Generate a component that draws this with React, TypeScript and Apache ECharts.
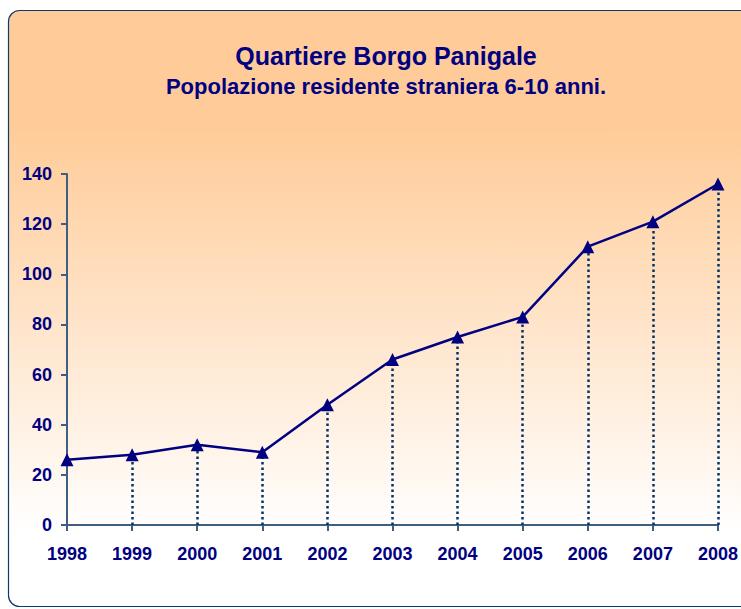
import React, { useEffect, useRef } from "react";
import * as echarts from "echarts";

const years = ["1998", "1999", "2000", "2001", "2002", "2003", "2004", "2005", "2006", "2007", "2008"];
const values = [26, 28, 32, 29, 48, 66, 75, 83, 111, 121, 136];
const titleText = "Quartiere Borgo Panigale";
const subtitleText = "Popolazione residente straniera 6-10 anni.";

export default function App() {
  const ref = useRef<HTMLDivElement>(null);
  useEffect(() => {
    if (!ref.current) return;
    const chart = echarts.init(ref.current, null, { renderer: "svg" });
    const navy = "#000080";
    const axisColor = "#3E5F82";
    const font = "Liberation Sans, Arial, sans-serif";
    // drop lines for every point except the first, which lies on the value axis
    const dropData = years
      .map((y, i) => [
        { coord: [y, 0] },
        { coord: [y, values[i]] },
      ])
      .filter((_, i) => i > 0);
    chart.setOption({
      animation: false,
      textStyle: { fontFamily: font },
      graphic: [
        {
          type: "rect",
          z: -10,
          silent: true,
          shape: { x: 8.5, y: 10.5, width: 780, height: 596, r: 11 },
          style: {
            fill: new echarts.graphic.LinearGradient(0, 0, 0, 1, [
              { offset: 0, color: "#FFCC99" },
              { offset: 0.2, color: "#FFCC99" },
              { offset: 0.88, color: "#FFFFFF" },
              { offset: 1, color: "#FFFFFF" },
            ]),
            stroke: "#0B3A6E",
            lineWidth: 1.2,
          },
        },
        {
          type: "rect",
          z: -9,
          silent: true,
          shape: { x: 158, y: 37, width: 447, height: 96 },
          style: { fill: "#FFCB98" },
        },
      ],
      title: {
        text: titleText,
        subtext: subtitleText,
        left: 381,
        textAlign: "center",
        top: 38,
        itemGap: 7,
        textStyle: {
          color: navy,
          fontSize: 25,
          fontWeight: "bold",
          fontFamily: font,
        },
        subtextStyle: {
          color: navy,
          fontSize: 22,
          fontWeight: "bold",
          fontFamily: font,
        },
      },
      grid: { left: 67, right: 23, top: 174, bottom: 84, containLabel: false },
      xAxis: {
        type: "category",
        data: years,
        boundaryGap: false,
        axisLine: { lineStyle: { color: axisColor, width: 2 } },
        axisTick: { alignWithLabel: true, length: 6, lineStyle: { color: axisColor, width: 2 } },
        axisLabel: { color: navy, fontSize: 18, fontWeight: "bold", margin: 20, fontFamily: font },
        splitLine: { show: false },
      },
      yAxis: {
        type: "value",
        min: 0,
        max: 140,
        interval: 20,
        axisLine: { show: true, lineStyle: { color: axisColor, width: 2 } },
        axisTick: { show: true, length: 6, lineStyle: { color: axisColor, width: 2 } },
        axisLabel: { color: navy, fontSize: 18, fontWeight: "bold", margin: 15, fontFamily: font },
        splitLine: { show: false },
      },
      series: [
        {
          type: "line",
          data: values,
          symbol: "triangle",
          symbolSize: 13,
          itemStyle: { color: navy },
          lineStyle: { color: navy, width: 2.5 },
          z: 5,
          markLine: {
            silent: true,
            symbol: "none",
            label: { show: false },
            lineStyle: { color: "#003366", width: 2.5, type: [2.5, 3] },
            data: dropData,
          },
        },
      ],
    });
    return () => chart.dispose();
  }, []);
  return (
    <div
      ref={ref}
      style={{ position: "absolute", left: 0, top: 0, width: 741, height: 609 }}
    />
  );
}
